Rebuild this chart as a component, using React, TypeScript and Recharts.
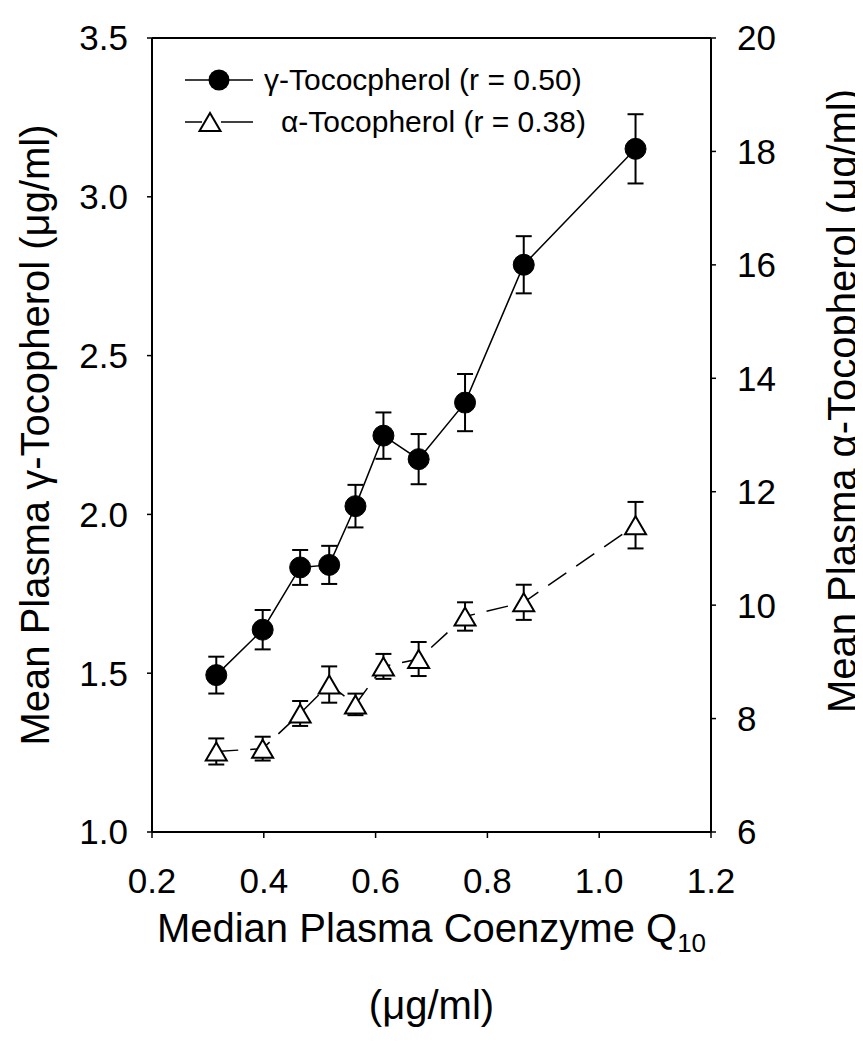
import React from 'react';
import {
  ComposedChart, Line, XAxis, YAxis, ErrorBar, ReferenceLine, Label
} from 'recharts';

// median plasma CoQ10 (µg/ml) per group
const coq10 = [0.315, 0.398, 0.465, 0.517, 0.564, 0.614, 0.677, 0.76, 0.865, 1.065];
const gammaMean = [1.494, 1.637, 1.833, 1.841, 2.026, 2.248, 2.174, 2.352, 2.786, 3.151];
const gammaErr = [0.058, 0.062, 0.055, 0.06, 0.067, 0.073, 0.079, 0.09, 0.09, 0.109];
const alphaMean = [7.42, 7.47, 8.09, 8.6, 8.25, 8.92, 9.05, 9.8, 10.05, 11.41];
const alphaErr = [0.23, 0.21, 0.22, 0.32, 0.19, 0.22, 0.3, 0.25, 0.31, 0.41];

const xTicks = [0.2, 0.4, 0.6, 0.8, 1.0, 1.2];
const gammaTicks = [1.0, 1.5, 2.0, 2.5, 3.0, 3.5];
const alphaTicks = [6, 8, 10, 12, 14, 16, 18, 20];

const gammaLabel = 'γ-Tococpherol (r = 0.50)';
const alphaLabel = 'α-Tocopherol (r = 0.38)';

const gammaData = coq10.map((x, i) => ({ x, y: gammaMean[i], err: gammaErr[i] }));
const alphaData = coq10.map((x, i) => ({ x, y: alphaMean[i], err: alphaErr[i] }));

const FONT = '"Liberation Sans", Arial, sans-serif';
const tickStyle = { fill: '#000', fontSize: 35, fontFamily: FONT };

const CircleDot = (props: any) => {
  const { cx, cy, index } = props;
  if (cx == null || cy == null) return null;
  return <circle key={`c${index}`} cx={cx} cy={cy} r={10.5} fill="#000" stroke="#000" strokeWidth={1} />;
};

const TriangleDot = (props: any) => {
  const { cx, cy, index } = props;
  if (cx == null || cy == null) return null;
  const w = 10.5, h = 9;
  return (
    <polygon
      key={`t${index}`}
      points={`${cx},${cy - h} ${cx - w},${cy + h} ${cx + w},${cy + h}`}
      fill="#fff" stroke="#000" strokeWidth={2}
    />
  );
};

const LegendBox = () => (
  <div style={{ position: 'absolute', left: 172, top: 51, fontFamily: FONT, fontSize: 30, color: '#000', lineHeight: 1 }}>
    <div style={{ display: 'flex', alignItems: 'center', height: 42 }}>
      <svg width={75} height={42}>
        <line x1={5} y1={21} x2={73} y2={21} stroke="#000" strokeWidth={1.5} />
        <circle cx={39} cy={21} r={10.5} fill="#000" />
      </svg>
      <span style={{ marginLeft: 9 }}>{gammaLabel}</span>
    </div>
    <div style={{ display: 'flex', alignItems: 'center', height: 42 }}>
      <svg width={75} height={42}>
        <line x1={5} y1={21} x2={22} y2={21} stroke="#000" strokeWidth={1.5} />
        <line x1={41} y1={21} x2={73} y2={21} stroke="#000" strokeWidth={1.5} />
        <polygon points="30,12 19.5,30 40.5,30" fill="#fff" stroke="#000" strokeWidth={2} />
      </svg>
      <span style={{ marginLeft: 26 }}>{alphaLabel}</span>
    </div>
  </div>
);

const XTitle = (props: any) => {
  const { x, y, width } = props.viewBox;
  const cx = x + width / 2;
  return (
    <g fontFamily={FONT} fill="#000">
      <text x={cx} y={y + 110} textAnchor="middle" fontSize={40}>
        Median Plasma Coenzyme Q<tspan fontSize={26} dy={10}>10</tspan>
      </text>
      <text x={cx} y={y + 187} textAnchor="middle" fontSize={40}>(μg/ml)</text>
    </g>
  );
};

const LeftTitle = (props: any) => {
  const { y, height } = props.viewBox;
  const cx = 27;
  const cy = y + height / 2;
  return (
    <text x={cx} y={cy} dy="0.35em" textAnchor="middle" fontSize={40} fontFamily={FONT}
      fill="#000" transform={`rotate(-90, ${cx}, ${cy})`}>
      Mean Plasma γ-Tocopherol (μg/ml)
    </text>
  );
};

const RightTitle = (props: any) => {
  const { y, height } = props.viewBox;
  const cx = 834;
  const cy = y + height / 2 - 34;
  return (
    <text x={cx} y={cy} dy="0.35em" textAnchor="middle" fontSize={40} fontFamily={FONT}
      fill="#000" transform={`rotate(-90, ${cx}, ${cy})`}>
      Mean Plasma α-Tocopherol (μg/ml)
    </text>
  );
};

const App: React.FC = () => {
  return (
    <div style={{ position: 'relative', width: 855, height: 1034, background: '#fff' }}>
      <ComposedChart width={855} height={1034} margin={{ top: 30, right: 0, bottom: 0, left: 0 }}>
        <XAxis
          dataKey="x" type="number" domain={[0.2, 1.2]} ticks={xTicks} allowDataOverflow
          height={210} tickSize={6} tickMargin={30}
          tickFormatter={(v: number) => v.toFixed(1)}
          tick={tickStyle} axisLine={{ stroke: '#000', strokeWidth: 2 }} tickLine={{ stroke: '#000', strokeWidth: 1.5 }}
        >
          <Label content={<XTitle />} />
        </XAxis>
        <YAxis
          yAxisId="g" orientation="left" type="number" domain={[1, 3.5]} ticks={gammaTicks} allowDataOverflow
          width={144} tickSize={5} tickMargin={19}
          tickFormatter={(v: number) => v.toFixed(1)}
          tick={tickStyle} axisLine={{ stroke: '#000', strokeWidth: 2 }} tickLine={{ stroke: '#000', strokeWidth: 1.5 }}
        >
          <Label content={<LeftTitle />} />
        </YAxis>
        <YAxis
          yAxisId="a" orientation="right" type="number" domain={[6, 20]} ticks={alphaTicks} allowDataOverflow
          width={152} tickSize={5} tickMargin={21}
          tick={tickStyle} axisLine={{ stroke: '#000', strokeWidth: 2 }} tickLine={{ stroke: '#000', strokeWidth: 1.5 }}
        >
          <Label content={<RightTitle />} />
        </YAxis>
        <ReferenceLine yAxisId="g" y={3.5} stroke="#000" strokeWidth={2} />
        <Line
          yAxisId="a" data={alphaData} dataKey="y" type="linear" stroke="#000" strokeWidth={1.5}
          strokeDasharray="22 12" dot={<TriangleDot />} activeDot={false} isAnimationActive={false}
          name={alphaLabel}
        >
          <ErrorBar dataKey="err" direction="y" width={8} stroke="#000" strokeWidth={2} />
        </Line>
        <Line
          yAxisId="g" data={gammaData} dataKey="y" type="linear" stroke="#000" strokeWidth={1.5}
          dot={<CircleDot />} activeDot={false} isAnimationActive={false}
          name={gammaLabel}
        >
          <ErrorBar dataKey="err" direction="y" width={8} stroke="#000" strokeWidth={2} />
        </Line>
      </ComposedChart>
      <LegendBox />
    </div>
  );
};

export default App;
